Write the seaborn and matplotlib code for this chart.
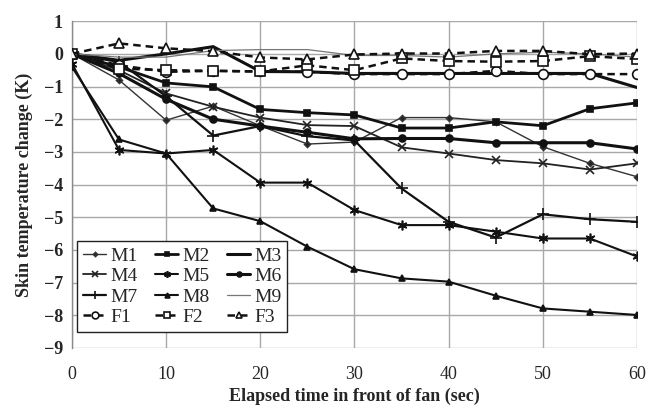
import matplotlib
matplotlib.use("Agg")
import matplotlib.pyplot as plt
import seaborn as sns
import pandas as pd

# Elapsed time (s) and skin temperature change (K) per subject
time_s = [0, 5, 10, 15, 20, 25, 30, 35, 40, 45, 50, 55, 60]

M1 = [0, -0.8, -2.03, -1.6, -2.2, -2.76, -2.7, -1.95, -1.95, -2.08, -2.84, -3.35, -3.76]
M2 = [0, -0.4, -0.89, -1.01, -1.7, -1.8, -1.87, -2.27, -2.27, -2.08, -2.2, -1.68, -1.5]
M3 = [0, -0.2, 0.0, 0.22, -0.54, -0.55, -0.6, -0.6, -0.6, -0.6, -0.6, -0.6, -1.03]
M4 = [0, -0.5, -1.21, -1.62, -1.95, -2.18, -2.21, -2.86, -3.05, -3.25, -3.35, -3.54, -3.35]
M5 = [-0.3, -2.94, -3.05, -2.94, -3.94, -3.94, -4.78, -5.24, -5.24, -5.44, -5.65, -5.65, -6.2]
M6 = [0, -0.6, -1.39, -2.0, -2.21, -2.4, -2.6, -2.59, -2.59, -2.72, -2.72, -2.72, -2.91]
M7 = [0, -0.25, -1.3, -2.5, -2.21, -2.52, -2.65, -4.12, -5.14, -5.62, -4.91, -5.06, -5.14]
M8 = [-0.4, -2.62, -3.05, -4.73, -5.12, -5.9, -6.59, -6.87, -6.97, -7.4, -7.79, -7.89, -7.99]
M9 = [0, -0.1, -0.1, 0.1, 0.13, 0.13, -0.05, -0.05, -0.1, 0.0, 0.05, 0.0, -0.1]
F1 = [0, -0.35, -0.55, -0.52, -0.54, -0.55, -0.62, -0.62, -0.62, -0.52, -0.62, -0.62, -0.62]
F2 = [0, -0.45, -0.5, -0.52, -0.54, -0.35, -0.5, -0.14, -0.22, -0.24, -0.22, -0.07, -0.16]
F3 = [0, 0.32, 0.17, 0.08, -0.11, -0.17, -0.02, 0.01, 0.01, 0.09, 0.09, -0.01, 0.01]

subjects = ["M1", "M2", "M3", "M4", "M5", "M6", "M7", "M8", "M9", "F1", "F2", "F3"]
values = [M1, M2, M3, M4, M5, M6, M7, M8, M9, F1, F2, F3]

x_ticks = [0, 10, 20, 30, 40, 50, 60]
y_ticks = [1, 0, -1, -2, -3, -4, -5, -6, -7, -8, -9]

# line / marker style per subject
styles = {
    "M1": dict(color="#333333", lw=1.0, ls="-", marker="D", ms=3, mfc="#222222"),
    "M2": dict(color="#111111", lw=2.0, ls="-", marker="s", ms=5, mfc="#111111"),
    "M3": dict(color="#111111", lw=2.2, ls="-", marker=None, ms=0, mfc="none"),
    "M4": dict(color="#222222", lw=1.3, ls="-", marker="x", ms=6, mfc="none"),
    "M5": dict(color="#111111", lw=1.5, ls="-", marker=(6, 2, 0), ms=7, mfc="none"),
    "M6": dict(color="#111111", lw=2.2, ls="-", marker="o", ms=5, mfc="#111111"),
    "M7": dict(color="#111111", lw=1.6, ls="-", marker="+", ms=9, mfc="none"),
    "M8": dict(color="#111111", lw=1.5, ls="-", marker="^", ms=5, mfc="#111111"),
    "M9": dict(color="#777777", lw=0.9, ls="-", marker=None, ms=0, mfc="none"),
    "F1": dict(color="#111111", lw=1.8, ls=(0, (3, 2)), marker="o", ms=7, mfc="white"),
    "F2": dict(color="#111111", lw=1.8, ls=(0, (3, 2)), marker="s", ms=7, mfc="white"),
    "F3": dict(color="#111111", lw=1.8, ls=(0, (3, 2)), marker="^", ms=7, mfc="white"),
}

sns.set_style("white")
plt.rcParams["font.family"] = ["Liberation Serif", "DejaVu Serif"]

fig = plt.figure(figsize=(6.48, 4.07), dpi=100)
ax = fig.add_axes([0.111, 0.145, 0.872, 0.803])

frames = []
for name, vals in zip(subjects, values):
    frames.append(pd.DataFrame({"time": time_s, "change": vals, "subject": name}))
df = pd.concat(frames, ignore_index=True)

handles = {}
for name in subjects:
    st = styles[name]
    sub = df[df["subject"] == name]
    sns.lineplot(data=sub, x="time", y="change", ax=ax, color=st["color"],
                 linewidth=st["lw"], linestyle=st["ls"],
                 marker=st["marker"] if st["marker"] is not None else "",
                 markersize=st["ms"], markerfacecolor=st["mfc"],
                 markeredgecolor=st["color"], markeredgewidth=1.2,
                 label=name, legend=False, zorder=3)
    handles[name] = ax.lines[-1]

ax.set_xlim(0, 60)
ax.set_ylim(-9, 1)
ax.set_xticks(x_ticks)
ax.set_yticks(y_ticks)
ax.grid(True, color="#a8a8a8", linewidth=1.0)
ax.set_axisbelow(True)
for side in ["top", "right", "bottom"]:
    ax.spines[side].set_visible(False)
ax.spines["left"].set_color("#8a8a8a")
ax.spines["left"].set_linewidth(1.0)
ax.tick_params(axis="y", direction="inout", length=7, width=1.0, color="#8a8a8a",
               labelsize=13, pad=3)
ax.tick_params(axis="x", length=0, labelsize=13, pad=13)
for lbl in ax.get_yticklabels():
    lbl.set_fontweight("bold")

ax.set_xlabel("Elapsed time in front of fan (sec)", fontsize=13, fontweight="bold", labelpad=3)
ax.set_ylabel("Skin temperature change (K)", fontsize=13, fontweight="bold", labelpad=8)

# legend filled column by column so rows read M1 M2 M3 / M4 M5 M6 ...
order = ["M1", "M4", "M7", "F1", "M2", "M5", "M8", "F2", "M3", "M6", "M9", "F3"]
leg = ax.legend([handles[n] for n in order], order, ncol=3, loc="lower left",
                bbox_to_anchor=(0.009, 0.049), fontsize=14, frameon=True,
                fancybox=False, edgecolor="#222222", framealpha=1,
                handlelength=1.2, handletextpad=0.2, columnspacing=0.9,
                labelspacing=0.15, borderpad=0.3, borderaxespad=0,
                markerscale=0.7)
leg.get_frame().set_linewidth(1.0)

fig.savefig("out.png", dpi=100)
